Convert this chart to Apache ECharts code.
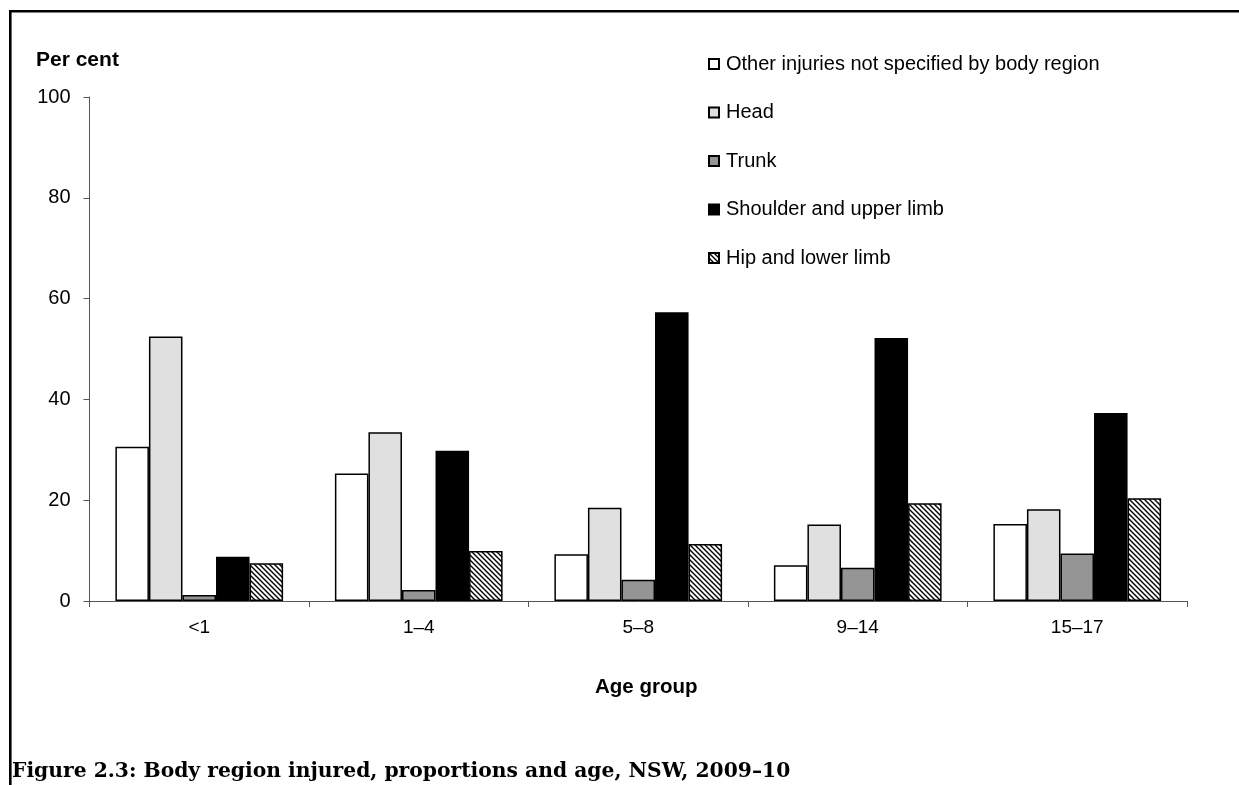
<!DOCTYPE html>
<html>
<head>
<meta charset="utf-8">
<script src="https://cdn.jsdelivr.net/npm/echarts@6/dist/echarts.min.js"></script>
<style>
html,body{margin:0;padding:0;background:#fff;}
#chart{width:1239px;height:785px;}
</style>
</head>
<body>
<div id="chart"></div>
<script>
const categories = ['<1', '1–4', '5–8', '9–14', '15–17'];
const seriesNames = ['Other injuries not specified by body region', 'Head', 'Trunk', 'Shoulder and upper limb', 'Hip and lower limb'];
const otherValues = [30.6, 25.3, 9.3, 7.1, 15.3];
const headValues = [52.5, 33.5, 18.5, 15.2, 18.2];
const trunkValues = [1.2, 2.2, 4.2, 6.6, 9.4];
const shoulderValues = [8.8, 29.8, 57.3, 52.2, 37.3];
const hipValues = [7.5, 9.9, 11.3, 19.4, 20.4];
const yTicks = [0, 20, 40, 60, 80, 100];

function hatch() {
  const c = document.createElement('canvas');
  const s = 5;
  c.width = s; c.height = s;
  const g = c.getContext('2d');
  g.fillStyle = '#fff';
  g.fillRect(0, 0, s, s);
  g.strokeStyle = '#000';
  g.lineWidth = 1.4;
  g.beginPath();
  g.moveTo(-1, -1); g.lineTo(s + 1, s + 1);
  g.moveTo(-1, s - 1); g.lineTo(1, s + 1);
  g.moveTo(s - 1, -1); g.lineTo(s + 1, 1);
  g.stroke();
  return c;
}

const fills = ['#ffffff', '#e0e0e0', '#959595', '#000000', {image: hatch(), repeat: 'repeat'}];
const values = [otherValues, headValues, trunkValues, shoulderValues, hipValues];

const chart = echarts.init(document.getElementById('chart'), null, {renderer: 'canvas'});
const font = 'Liberation Sans, Arial, sans-serif';
chart.setOption({
  animation: false,
  backgroundColor: '#fff',
  textStyle: {fontFamily: font},
  grid: {left: 89.5, right: 52, top: 97, bottom: 184, containLabel: false},
  legend: {
    orient: 'vertical',
    left: 703,
    top: 49,
    itemWidth: 10,
    itemHeight: 10,
    itemGap: 28.5,
    selectedMode: false,
    textStyle: {fontFamily: font, fontSize: 20, color: '#000', padding: [0, 0, 0, 2]},
    data: seriesNames.map(n => ({name: n, icon: 'rect'}))
  },
  xAxis: {
    type: 'category',
    data: categories,
    axisLine: {lineStyle: {color: '#555', width: 1}},
    axisTick: {show: true, length: 6, lineStyle: {color: '#555'}},
    axisLabel: {fontFamily: font, fontSize: 19, color: '#000', margin: 17}
  },
  yAxis: {
    type: 'value',
    min: 0, max: 100, interval: 20,
    axisLine: {show: true, lineStyle: {color: '#555', width: 1}},
    axisTick: {show: true, length: 6, lineStyle: {color: '#555'}},
    splitLine: {show: false},
    axisLabel: {fontFamily: font, fontSize: 20, color: '#000', margin: 19,
      formatter: v => yTicks.indexOf(v) >= 0 ? String(v) : ''}
  },
  series: seriesNames.map((n, i) => ({
    name: n,
    type: 'bar',
    data: values[i],
    barGap: '0%',
    barCategoryGap: '23.6%',
    itemStyle: {color: fills[i], borderColor: '#000', borderWidth: 1.5}
  })),
  graphic: [
    {type: 'line', shape: {x1: 10.3, y1: 11.2, x2: 1239, y2: 11.2}, style: {stroke: '#000', lineWidth: 2.6}},
    {type: 'line', shape: {x1: 10.3, y1: 10, x2: 10.3, y2: 785}, style: {stroke: '#000', lineWidth: 2.6}},
    {type: 'text', left: 36, top: 50, style: {text: 'Per cent', font: 'bold 21px Liberation Sans, Arial, sans-serif', fill: '#000'}},
    {type: 'text', left: 595, top: 677, style: {text: 'Age group', font: 'bold 20.5px Liberation Sans, Arial, sans-serif', fill: '#000'}},
    {type: 'text', left: 12, top: 762, style: {text: 'Figure 2.3: Body region injured, proportions and age, NSW, 2009–10', font: 'bold 20.3px DejaVu Serif, serif', fill: '#000'}}
  ]
});
</script>
</body>
</html>
